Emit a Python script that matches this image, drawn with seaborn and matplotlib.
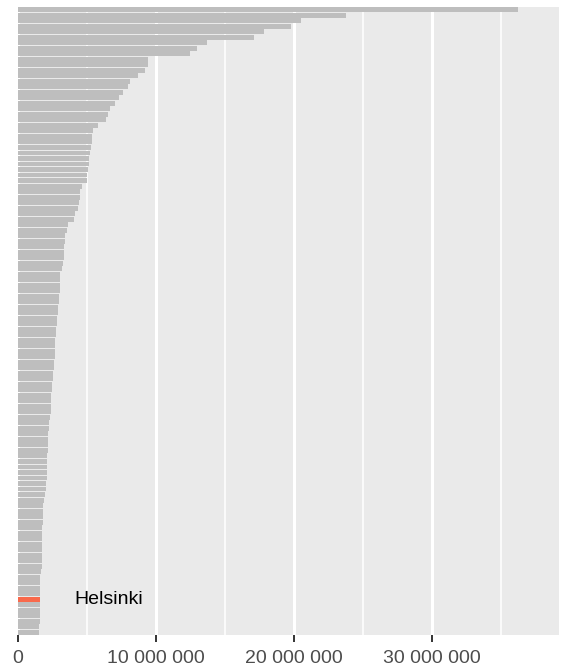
import numpy as np
import pandas as pd
import matplotlib
matplotlib.use("Agg")
import matplotlib.pyplot as plt
import seaborn as sns
from matplotlib import font_manager

# Bar values in millions, ordered from largest to smallest
values_m = [
    36.20, 23.76, 20.54, 19.77, 17.80, 17.07, 13.68, 12.95, 12.44, 9.42,
    9.40, 9.20, 8.70, 8.12, 7.97, 7.61, 7.32, 7.03, 6.67, 6.52,
    6.38, 5.80, 5.43, 5.37, 5.36, 5.29, 5.22, 5.15, 5.14, 5.07,
    5.00, 4.99, 4.64, 4.50, 4.49, 4.42, 4.35, 4.13, 4.06, 3.62,
    3.55, 3.42, 3.41, 3.34, 3.33, 3.32, 3.26, 3.19, 3.05, 3.04,
    3.04, 3.03, 2.97, 2.96, 2.90, 2.89, 2.85, 2.83, 2.75, 2.74,
    2.68, 2.68, 2.67, 2.66, 2.61, 2.60, 2.54, 2.53, 2.46, 2.45,
    2.39, 2.39, 2.38, 2.37, 2.32, 2.25, 2.24, 2.17, 2.17, 2.16,
    2.16, 2.10, 2.10, 2.09, 2.09, 2.08, 2.03, 2.02, 1.96, 1.88,
    1.82, 1.82, 1.81, 1.80, 1.75, 1.74, 1.74, 1.74, 1.74, 1.73,
    1.73, 1.73, 1.67, 1.60, 1.60, 1.60, 1.60, 1.59, 1.59, 1.59,
    1.58, 1.58, 1.53, 1.52,
]
highlight_rank = 108  # 1-based position of Helsinki
highlight_name = "Helsinki"
cities = [f"Kaupunki {i}" for i in range(1, len(values_m) + 1)]
cities[highlight_rank - 1] = highlight_name

x_ticks = [0, 10_000_000, 20_000_000, 30_000_000]
x_minor = [5_000_000, 15_000_000, 25_000_000, 35_000_000]

df = pd.DataFrame({
    "city": cities,
    "value": np.array(values_m) * 1_000_000,
})
df["hl"] = np.where(df["city"] == highlight_name, "yes", "no")

# pick a narrow Arial-like font if available
names = {f.name for f in font_manager.fontManager.ttflist}
family = "Liberation Sans Narrow" if "Liberation Sans Narrow" in names else "Liberation Sans"
fsize = 16.8 if family == "Liberation Sans Narrow" else 14
plt.rcParams["font.family"] = [family, "DejaVu Sans"]

W, H = 561, 671
fig = plt.figure(figsize=(W / 100, H / 100), dpi=100)
ax = fig.add_axes([18 / W, 1 - 635 / H, (559 - 18) / W, (635 - 7) / H])

sns.barplot(data=df, x="value", y="city", hue="hl", orient="h",
            palette={"no": "#BEBEBE", "yes": "#F9694B"},
            dodge=False, legend=False, width=0.9, saturation=1, ax=ax)

ax.set_facecolor("#EAEAEA")
ax.set_axisbelow(True)
ax.set_xlim(0, 39_200_000)
ax.set_ylim(len(df) - 0.5, -0.5)

ax.set_xticks(x_ticks)
ax.set_xticks(x_minor, minor=True)
ax.set_xticklabels([f"{v:,.0f}".replace(",", " ") for v in x_ticks])
ax.grid(which="major", axis="x", color="white", linewidth=2.2)
ax.grid(which="minor", axis="x", color="white", linewidth=1.1)
ax.grid(which="major", axis="y", visible=False)
ax.tick_params(axis="x", which="major", length=5, width=1.4, color="#333333",
               labelsize=fsize, labelcolor="#4D4D4D", pad=6)
ax.tick_params(axis="x", which="minor", length=0)
ax.tick_params(axis="y", left=False, labelleft=False)
ax.set_xlabel("")
ax.set_ylabel("")
for s in ax.spines.values():
    s.set_visible(False)

ax.text(4_060_000, highlight_rank - 1, highlight_name, ha="left", va="center",
        fontsize=fsize, color="black")

fig.savefig("out.png", dpi=100)
